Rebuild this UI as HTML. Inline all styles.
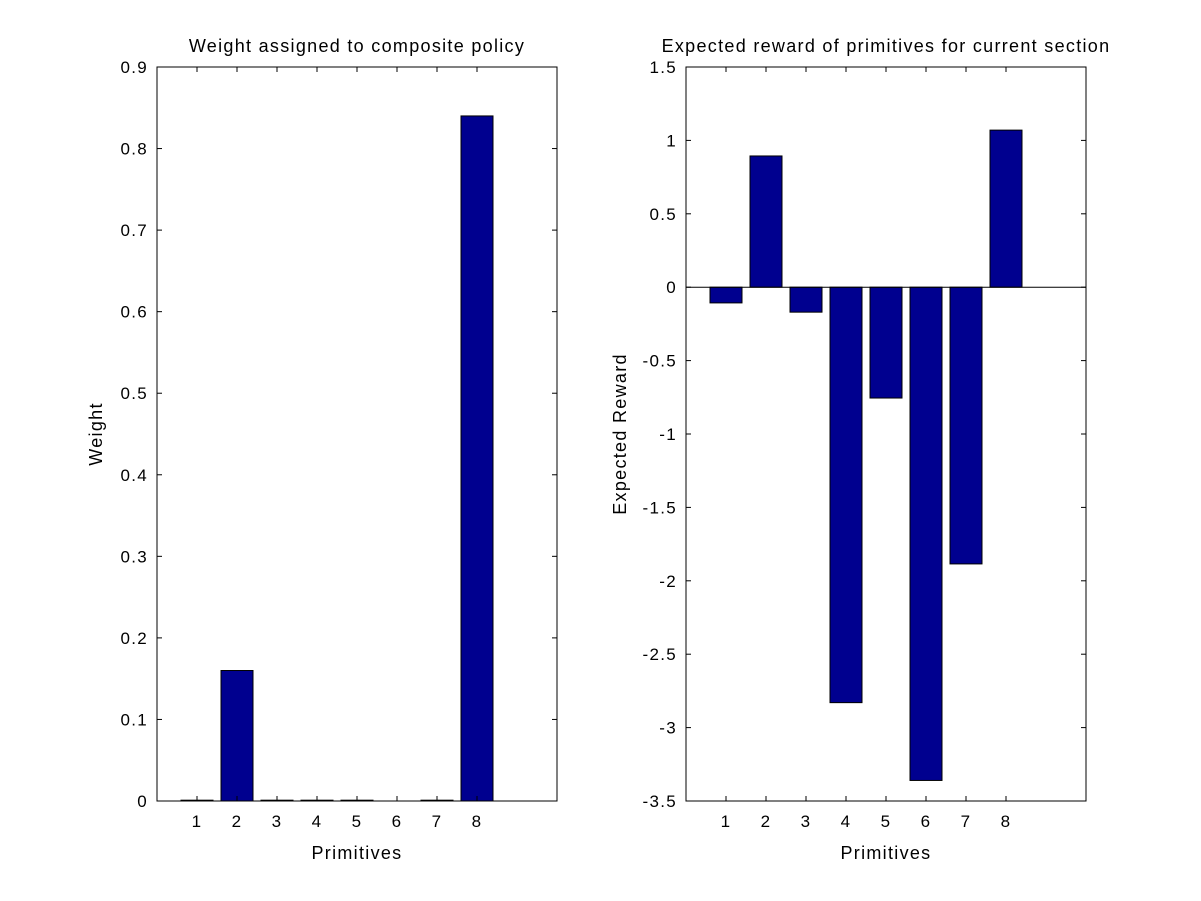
<!DOCTYPE html>
<html><head><meta charset="utf-8"><style>
html,body{margin:0;padding:0;background:#fff;}
svg{display:block;font-family:"Liberation Sans",Arial,sans-serif;}
text{letter-spacing:1.3px;}
</style></head><body>
<svg id="fig" width="1201" height="901" viewBox="0 0 1201 901" xmlns="http://www.w3.org/2000/svg"></svg>
<script>
const categories = [1,2,3,4,5,6,7,8];
const weightValues = [0.001,0.16,0.001,0.001,0.001,0,0.001,0.84];
const rewardValues = [-0.107,0.894,-0.17,-2.83,-0.755,-3.36,-1.885,1.07];
const weightTicks = ["0","0.1","0.2","0.3","0.4","0.5","0.6","0.7","0.8","0.9"];
const rewardTicks = ["-3.5","-3","-2.5","-2","-1.5","-1","-0.5","0","0.5","1","1.5"];

const NS="http://www.w3.org/2000/svg";
const svg=document.getElementById('fig');
function mk(tag,attrs,parent){const e=document.createElementNS(NS,tag);for(const k in attrs)e.setAttribute(k,attrs[k]);(parent||svg).appendChild(e);return e;}

function panel(cfg){
  const g=mk('g',{});
  
  
  const L=cfg.x0,R=cfg.x0+400,T=67,B=801;
  const xs=v=>L+(v/10)*400;
  const ys=v=>B-(v-cfg.ymin)/(cfg.ymax-cfg.ymin)*(B-T);
  mk('rect',{x:L,y:T,width:400,height:B-T,fill:'#fff',stroke:'none'},g);
  const base=Math.max(cfg.ymin,Math.min(cfg.ymax,0));
  categories.forEach((c,i)=>{
    const v=cfg.values[i];
    const y1=ys(v),y0=ys(base);
    const r=mk('rect',{x:xs(c-0.4),y:Math.min(y0,y1),width:xs(c+0.4)-xs(c-0.4),height:Math.abs(y1-y0),fill:'#00008f',stroke:'#000','stroke-width':1},g);
    
    
  });
  if(cfg.ymin<0){const zl=mk('line',{x1:L,x2:R,y1:ys(0),y2:ys(0),stroke:'#000','stroke-width':1},g);
    }
  mk('rect',{x:L,y:T,width:400,height:B-T,fill:'none',stroke:'#000','stroke-width':1},g);
  cfg.ticks.forEach(t=>{
    const y=ys(parseFloat(t));
    mk('line',{x1:L,x2:L+5,y1:y,y2:y,stroke:'#000'},g);
    mk('line',{x1:R,x2:R-5,y1:y,y2:y,stroke:'#000'},g);
    const tx=mk('text',{x:L-9,y:y+6,'text-anchor':'end','font-size':17},g);tx.textContent=t;
    
  });
  categories.forEach(c=>{
    const x=xs(c);
    mk('line',{x1:x,x2:x,y1:B,y2:B-5,stroke:'#000'},g);
    mk('line',{x1:x,x2:x,y1:T,y2:T+5,stroke:'#000'},g);
    const tx=mk('text',{x:x,y:B+26,'text-anchor':'middle','font-size':17},g);tx.textContent=c;
    
  });
  const ti=mk('text',{x:L+200,y:T-15,'text-anchor':'middle','font-size':18},g);ti.textContent=cfg.title;
  
  const xl=mk('text',{x:L+200,y:B+58,'text-anchor':'middle','font-size':18},g);xl.textContent='Primitives';
  
  const yl=mk('text',{x:0,y:0,'text-anchor':'middle','font-size':18,transform:`translate(${cfg.ylx},${(T+B)/2}) rotate(-90)`},g);yl.textContent=cfg.ylabel;
  
}
panel({name:'weight-chart',x0:157,ymin:0,ymax:0.9,values:weightValues,ticks:weightTicks,title:'Weight assigned to composite policy',ylabel:'Weight',ylx:102});
panel({name:'reward-chart',x0:686,ymin:-3.5,ymax:1.5,values:rewardValues,ticks:rewardTicks,title:'Expected reward of primitives for current section',ylabel:'Expected Reward',ylx:626});
</script>
</body></html>
